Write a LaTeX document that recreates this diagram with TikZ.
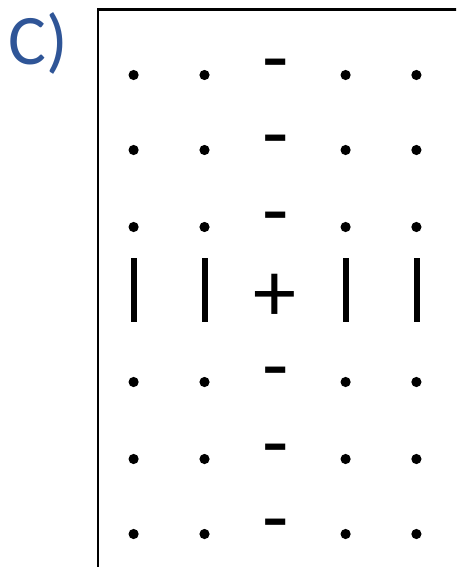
\documentclass[tikz,border=0pt]{standalone}
\usepackage{fontspec}
\setmainfont{Carlito}
\definecolor{cblue}{RGB}{47,85,151}
\begin{document}
\begin{tikzpicture}[x=1pt,y=-1pt,
  dotmark/.style={circle,fill=black,inner sep=0pt,minimum size=10.2pt},
  barmark/.style={rectangle,fill=black,inner sep=0pt,minimum width=6pt,minimum height=64pt},
  charge/.style={inner sep=0pt,anchor=base,font=\fontsize{86}{86}\selectfont},
  frame/.style={line width=2.5pt}]
\clip (0,0) rectangle (456,567);
\useasboundingbox (0,0) rectangle (456,567);
\node[anchor=base west,inner sep=0pt,text=cblue,font=\fontsize{71}{71}\selectfont] (label) at (8,65) {C)};
\coordinate (frameBL) at (98,600);
\coordinate (frameTL) at (98,9.7);
\coordinate (frameTR) at (500,9.7);
\draw[frame] (frameBL) -- (frameTL) -- (frameTR);
% dot rows
\foreach \r/\y/\dy in {1/75/87, 2/150/162, 3/227/239, 5/382/394, 6/459/471, 7/534/546}{
  \foreach \c/\x in {1/133.6, 2/204.5, 4/345.6, 5/416.4}{
    \node[dotmark] (d\r\c) at (\x,\y) {};
  }
  \node[charge] (m\r) at (275.5,\dy) {-};
}
% centre row
\foreach \c/\x in {1/133.8, 2/204.8, 4/345.7, 5/416.8}{
  \node[barmark] (b\c) at (\x,289.7) {};
}
\node[charge] (plus) at (275.3,321) {+};
\end{tikzpicture}
\end{document}
